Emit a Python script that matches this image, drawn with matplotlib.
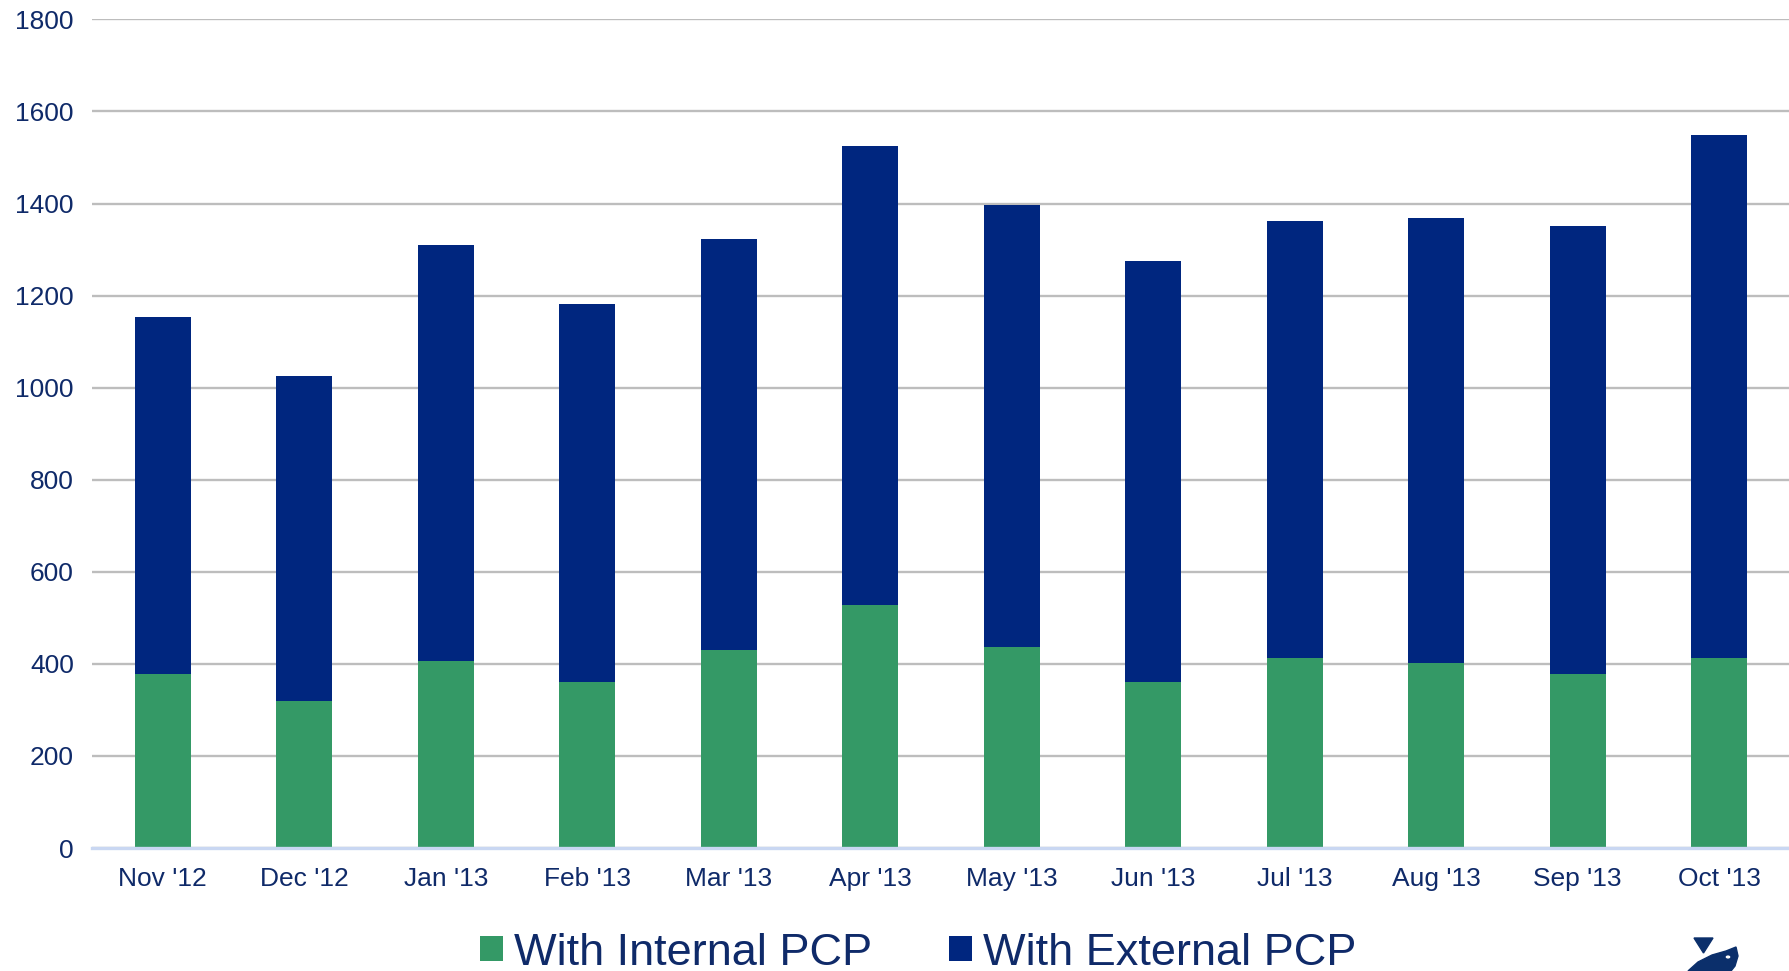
import matplotlib
matplotlib.use("Agg")
import matplotlib.pyplot as plt
from matplotlib.patches import Polygon, Circle

months = ["Nov '12", "Dec '12", "Jan '13", "Feb '13", "Mar '13", "Apr '13",
          "May '13", "Jun '13", "Jul '13", "Aug '13", "Sep '13", "Oct '13"]
internal_pcp = [378, 319, 406, 360, 430, 528, 436, 361, 412, 401, 378, 412]
external_pcp = [776, 707, 903, 822, 892, 997, 961, 914, 950, 967, 973, 1136]
y_ticks = [0, 200, 400, 600, 800, 1000, 1200, 1400, 1600, 1800]

GREEN = "#349966"
NAVY = "#00267F"
TEXT = "#0F2A69"

plt.rcParams["font.family"] = ["Liberation Sans", "DejaVu Sans"]

W, H = 1790, 971
fig = plt.figure(figsize=(W / 100, H / 100), dpi=100)
ax = fig.add_axes([92 / W, 1 - 848 / H, 1 - 92 / W, (848 - 19.4) / H])

x = list(range(len(months)))
ax.bar(x, internal_pcp, width=0.395, color=GREEN, zorder=3,
       label="With Internal PCP")
ax.bar(x, external_pcp, width=0.395, bottom=internal_pcp, color=NAVY,
       zorder=3, label="With External PCP")

ax.set_xlim(-0.5, len(months) - 0.5)
ax.set_ylim(0, 1800)
ax.set_yticks(y_ticks)
ax.set_xticks(x)
ax.set_xticklabels(months)

ax.yaxis.grid(True, color="#BDBDBD", linewidth=1.7, zorder=0)
ax.set_axisbelow(True)
for side in ("top", "right", "left"):
    ax.spines[side].set_visible(False)
ax.spines["bottom"].set_color("#C9D7F2")
ax.spines["bottom"].set_linewidth(2.4)
ax.spines["bottom"].set_zorder(4)

ax.tick_params(axis="both", length=0, labelsize=19, labelcolor=TEXT)
ax.tick_params(axis="y", pad=13)
ax.tick_params(axis="x", pad=13.5)

leg = fig.legend(loc="center", bbox_to_anchor=(0.513, 1 - 953 / H), ncol=2,
                 frameon=False, fontsize=32.5, handlelength=0.5,
                 handleheight=0.5, handletextpad=0.25, columnspacing=1.7,
                 borderaxespad=0, borderpad=0)
for t in leg.get_texts():
    t.set_color(TEXT)

# small corner logo
def fx(px):
    return px / W

def fy(py):
    return 1 - py / H

tri = Polygon([(fx(1694), fy(938)), (fx(1713), fy(938)), (fx(1703.5), fy(953))],
              closed=True, transform=fig.transFigure, color="#0B2F6B")
fish = Polygon([(fx(1688), fy(971)), (fx(1698), fy(962)), (fx(1712), fy(955)),
                (fx(1726), fy(951)), (fx(1736), fy(947)), (fx(1738), fy(956)),
                (fx(1735), fy(966)), (fx(1731), fy(971))],
               closed=True, transform=fig.transFigure, color="#0B2F6B")
fig.add_artist(tri)
fig.add_artist(fish)
fig.add_artist(Circle((fx(1728), fy(957)), 1.6 / W, transform=fig.transFigure,
                      color="white"))

fig.savefig("out.png", dpi=100)
